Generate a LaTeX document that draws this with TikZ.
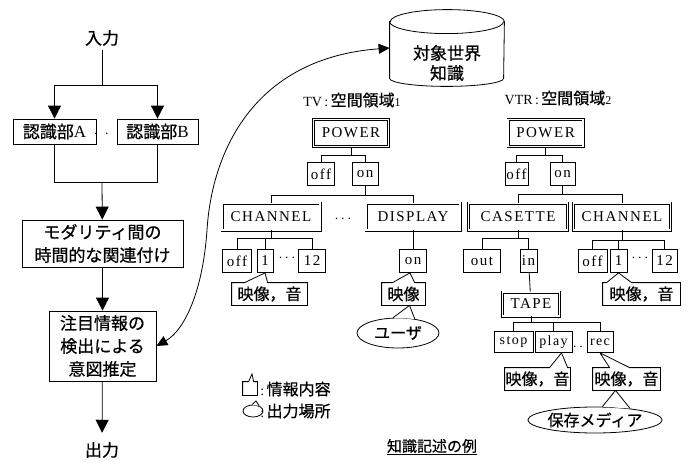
\documentclass[tikz,border=0pt]{standalone}
\usepackage{fontspec}
\setmainfont{Liberation Serif}
\newfontfamily\jp[UprightFeatures={FakeBold=0.6}]{Noto Sans CJK JP}
\newfontfamily\lat[LetterSpace=10]{Liberation Serif}
\usetikzlibrary{arrows.meta,shapes.geometric,calc}
\newcommand\mycallout[4]{\draw (#1.north west) -- ($(#1.north west)+(#3,0)$) -- (#2) -- ($(#1.north west)+(#4,0)$) -- (#1.north east) -- (#1.south east) -- (#1.south west) -- cycle;}
\newcommand\myellcallout[4]{\fill[white] (#1.#3) -- (#2) -- (#1.#4) -- cycle; \draw (#1.#3) -- (#2) -- (#1.#4);}
\begin{document}
\begin{tikzpicture}[x=1pt,y=1pt,line width=0.8pt,
  arr/.style={-{Triangle[length=13pt,width=13pt]}},
  jbox/.style={draw, fill=white, inner sep=2pt, align=center, font=\jp\fontsize{17}{23}\selectfont},
  dbox/.style={draw, double, double distance=1.8pt, line width=0.6pt, inner sep=0pt, font=\lat\fontsize{15}{15}\selectfont, minimum height=27pt},
  sbox/.style={draw, inner sep=0pt, font=\lat\fontsize{15}{15}\selectfont, minimum height=23pt},
  cbox/.style={inner sep=0pt, font=\jp\fontsize{16}{18}\selectfont, minimum height=22pt},
  ell/.style={draw, ellipse, inner sep=0pt, fill=white, font=\jp\fontsize{16}{18}\selectfont},
  lbl/.style={inner sep=0pt, font=\fontsize{14}{16}\selectfont},
  jlbl/.style={inner sep=0pt, font=\jp\fontsize{17}{20}\selectfont},
]
\useasboundingbox (0,0) rectangle (691,-463);

% ---------- left column ----------
\node[jlbl] (in) at (102,-38) {入力};
\coordinate (split) at (102,-85);
\node[jbox, minimum width=83pt, minimum height=25pt] (recA) at (54.5,-131.5) {認識部\rmfamily A};
\node[lbl] (dotsAB) at (107,-134) {$\cdot\;\cdot\;\cdot$};
\node[jbox, minimum width=81pt, minimum height=25pt] (recB) at (157.5,-131.5) {認識部\rmfamily B};
\coordinate (merge) at (102,-182);
\node[jbox, minimum width=161pt, minimum height=47pt] (modal) at (102.5,-243.5) {モダリティ間の\\時間的な関連付け};
\node[jbox, minimum width=107pt, minimum height=70pt] (infer) at (102.5,-346) {注目情報の\\検出による\\意図推定};
\node[jlbl] (out) at (102,-450) {出力};

\draw[shorten <=4pt] (in) -- (split);
\draw[arr] (split) -| (recA);
\draw[arr] (split) -| (recB);
\draw (recA) |- (merge);
\draw (recB) |- (merge);
\draw[arr] (merge) -- (modal);
\draw[arr] (modal) -- (infer);
\draw[arr, shorten >=9pt] (infer) -- (out);

% ---------- knowledge base cylinder ----------
\node[minimum width=114pt, minimum height=76pt, inner sep=0pt] (kb) at (447,-48) {};
\path[draw, fill=white] ($(kb.north west)+(0,-12)$) -- ($(kb.south west)+(0,8)$)
  arc[start angle=180,end angle=360,x radius=57,y radius=8]
  -- ($(kb.north east)+(0,-12)$)
  arc[start angle=0,end angle=180,x radius=57,y radius=12] -- cycle;
\draw ($(kb.north west)+(0,-12)$) arc[start angle=180,end angle=360,x radius=57,y radius=12];
\node[inner sep=0pt, align=center, font=\jp\fontsize{17}{20}\selectfont] (kbt) at (447,-63) {対象世界\\知識};

\draw[{Triangle[length=11pt,width=10pt]}-{Triangle[length=11pt,width=10pt]}]
  (kb.west) .. controls (255,-58) and (212,-150) .. (207,-230)
  .. controls (203,-290) and (185,-330) .. (infer.east);

% ---------- TV tree ----------
\node[lbl] (tvlab) at (352,-100) {TV\,:\,{\jp\fontsize{16}{18}\selectfont 空間領域}{\fontsize{12}{14}\selectfont 1}};
\node[dbox, minimum width=75pt] (tvpow) at (351,-133) {POWER};
\node[sbox, minimum width=27pt] (tvoff) at (321,-174) {off};
\node[sbox, minimum width=26pt] (tvon) at (365,-174) {on};
\coordinate (tvj1) at (351,-155);
\coordinate (tvj2) at (365,-195);
\node[dbox, minimum width=98pt] (tvch) at (271,-216.5) {CHANNEL};
\node[lbl] (tvdots) at (343,-219) {$\cdots$};
\node[dbox, minimum width=94pt] (tvdisp) at (413,-216.5) {DISPLAY};
\coordinate (tvj3) at (271,-238);
\node[sbox, minimum width=29pt] (tvcoff) at (237,-261) {off};
\node[sbox, minimum width=16pt] (tvc1) at (265,-261) {1};
\node[lbl] (tvcdots) at (287,-258) {$\cdots$};
\node[sbox, minimum width=27pt] (tvc12) at (312,-261) {12};
\node[cbox, minimum width=75pt] (tvcall) at (269.5,-294) {映像，音};
\node[sbox, minimum width=27pt] (tvdon) at (413,-261) {on};
\node[cbox, minimum width=43pt] (tvdcall) at (403.5,-294) {映像};
\node[ell, minimum width=82pt, minimum height=30pt] (user) at (398,-333) {ユーザ};

\draw (tvpow) -- (tvj1);
\draw (tvj1) -| (tvoff);
\draw (tvj1) -| (tvon);
\draw (tvon) -- (tvj2);
\draw (tvj2) -| (tvch);
\draw (tvj2) -| (tvdisp);
\draw (tvch) -- (tvj3);
\draw (tvj3) -| (tvcoff);
\draw (tvj3) -| (tvc1);
\draw (tvj3) -| (tvc12);
\draw (tvdisp) -- (tvdon);
\mycallout{tvcall}{tvc1.south}{13}{36}
\mycallout{tvdcall}{$(tvdon.south)+(-3,0)$}{11}{33}
\myellcallout{user}{$(tvdcall.south)+(6,0)$}{108}{40}

% ---------- VTR tree ----------
\node[lbl] (vlab) at (558,-98) {VTR\,:\,{\jp\fontsize{16}{18}\selectfont 空間領域}{\fontsize{12}{14}\selectfont 2}};
\node[dbox, minimum width=75pt] (vpow) at (545.5,-133) {POWER};
\node[sbox, minimum width=23pt] (voff) at (516.5,-174) {off};
\node[sbox, minimum width=25pt] (von) at (562.5,-174) {on};
\coordinate (vj1) at (545.5,-155);
\coordinate (vj2) at (562.5,-194);
\node[dbox, minimum width=99pt] (vcas) at (518,-216.5) {CASETTE};
\node[dbox, minimum width=97pt] (vch) at (622,-216.5) {CHANNEL};
\coordinate (vj3) at (518,-238);
\node[sbox, minimum width=37pt] (vout) at (482,-261) {out};
\node[sbox, minimum width=17pt] (vin) at (528.5,-261) {in};
\node[dbox, minimum width=57pt, minimum height=24pt] (vtape) at (531,-304) {TAPE};
\coordinate (vj4) at (531,-322);
\node[sbox, minimum width=39pt, minimum height=21pt, font=\lat\fontsize{14}{14}\selectfont] (vstop) at (513.5,-342) {stop};
\node[sbox, minimum width=37pt, minimum height=21pt, font=\lat\fontsize{14}{14}\selectfont] (vplay) at (553.5,-342) {play};
\node[lbl] (vpdots) at (578,-347) {$\cdot\,\cdot$};
\node[sbox, minimum width=26pt, minimum height=21pt, font=\lat\fontsize{14}{14}\selectfont] (vrec) at (600,-342) {rec};
\node[cbox, minimum width=65pt] (vpcall) at (537.5,-379) {映像，音};
\node[cbox, minimum width=67pt] (vrcall) at (626.5,-379) {映像，音};
\node[ell, minimum width=110pt, minimum height=26pt] (media) at (595,-420) {保存メディア};
\coordinate (vj5) at (622,-240);
\node[sbox, minimum width=29pt] (vcoff) at (592.5,-261) {off};
\node[sbox, minimum width=17pt] (vc1) at (618.5,-261) {1};
\node[lbl] (vcdots) at (640,-258) {$\cdots$};
\node[sbox, minimum width=25pt] (vc12) at (664.5,-261) {12};
\node[cbox, minimum width=77pt] (vccall) at (641.5,-294) {映像，音};

\draw (vpow) -- (vj1);
\draw (vj1) -| (voff);
\draw (vj1) -| (von);
\draw (von) -- (vj2);
\draw (vj2) -| (vcas);
\draw (vj2) -| (vch);
\draw (vcas) -- (vj3);
\draw (vj3) -| (vout);
\draw (vj3) -| (vin);
\draw (vin) -- (vtape);
\draw (vtape) -- (vj4);
\draw (vj4) -| (vstop);
\draw (vj4) -| (vplay);
\draw (vj4) -| (vrec);
\draw (vch) -- (vj5);
\draw (vj5) -| (vcoff);
\draw (vj5) -| (vc1);
\draw (vj5) -| (vc12);
\mycallout{vpcall}{$(vplay.south)+(8,0)$}{45}{63}
\mycallout{vrcall}{vrec.south}{17}{37}
\myellcallout{media}{$(vrcall.south)+(-11,0)$}{61}{18}
\mycallout{vccall}{vc1.south}{4}{29}

% ---------- legend ----------
\node[minimum width=14pt, minimum height=13pt, inner sep=0pt] (lgbox) at (250,-388.5) {};
\coordinate (lgtip) at (252,-374);
\mycallout{lgbox}{lgtip}{6}{11}
\node[lbl, anchor=west] (lgt1) at (260,-389) {:\,{\jp\fontsize{16}{18}\selectfont 情報内容}};
\node[draw, ellipse, minimum width=20pt, minimum height=12pt, inner sep=0pt] (lgell) at (253,-411) {};
\coordinate (lgtip2) at (256,-401);
\myellcallout{lgell}{lgtip2}{100}{40}
\node[lbl, anchor=west] (lgt2) at (260,-411) {:\,{\jp\fontsize{16}{18}\selectfont 出力場所}};

\node[inner sep=0pt, font=\jp\fontsize{15}{17}\selectfont] (title) at (432,-447) {\underline{知識記述の例}};
\end{tikzpicture}
\end{document}
